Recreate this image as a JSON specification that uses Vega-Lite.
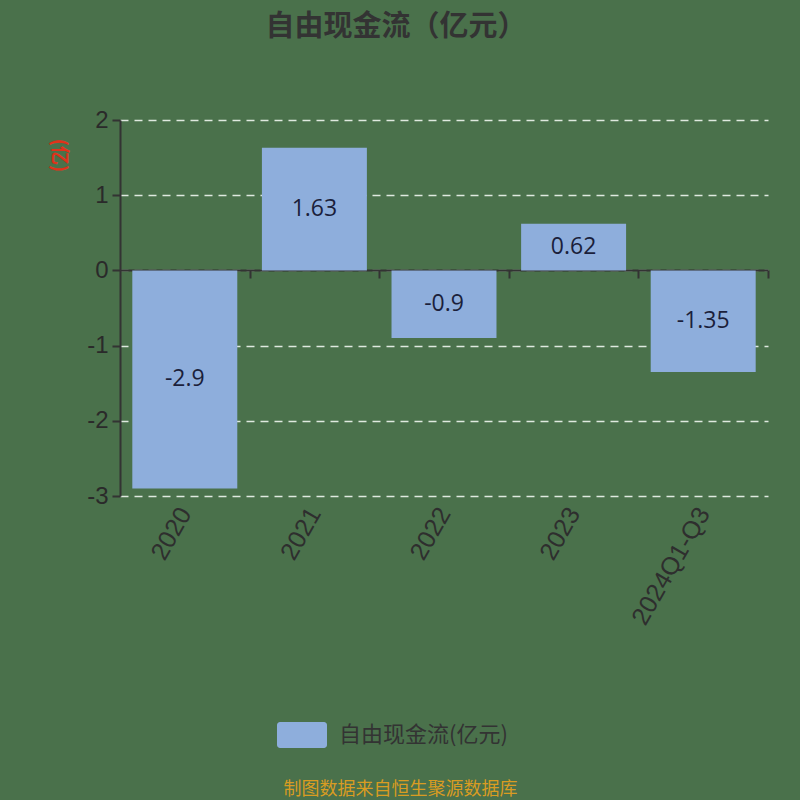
{
  "$schema": "https://vega.github.io/schema/vega-lite/v6.json",
  "autosize": "none",
  "width": 648,
  "height": 376,
  "padding": {"left": 120, "top": 120, "right": 32, "bottom": 304},
  "background": "#4a714b",
  "config": {"view": {"stroke": null}},
  "title": {
    "text": "自由现金流（亿元）",
    "font": "Noto Sans CJK SC",
    "fontSize": 29,
    "fontWeight": "bold",
    "color": "#333333",
    "anchor": "middle",
    "dx": -48,
    "offset": 66
  },
  "data": {
    "values": [
      {"period": "2020", "value": -2.9, "label": "-2.9", "series": "自由现金流(亿元)"},
      {"period": "2021", "value": 1.63, "label": "1.63", "series": "自由现金流(亿元)"},
      {"period": "2022", "value": -0.9, "label": "-0.9", "series": "自由现金流(亿元)"},
      {"period": "2023", "value": 0.62, "label": "0.62", "series": "自由现金流(亿元)"},
      {"period": "2024Q1-Q3", "value": -1.35, "label": "-1.35", "series": "自由现金流(亿元)"}
    ]
  },
  "encoding": {
    "x": {
      "field": "period",
      "type": "nominal",
      "sort": null,
      "scale": {"paddingInner": 0.19, "paddingOuter": 0.095},
      "axis": {
        "title": "制图数据来自恒生聚源数据库",
        "titleFont": "Noto Sans CJK SC",
        "titleFontSize": 18,
        "titleFontWeight": "normal",
        "titleColor": "#d99c22",
        "titleX": 280,
        "titleY": 519,
        "titleAlign": "center",
        "titleBaseline": "middle",
        "offset": -226,
        "domainColor": "#333333",
        "domainWidth": 2,
        "tickColor": "#333333",
        "tickWidth": 2,
        "tickSize": 8,
        "tickOffset": 64.8,
        "labelOffset": -64.8,
        "labelAngle": -60,
        "labelPadding": 231,
        "labelFont": "Liberation Sans",
        "labelFontSize": 25,
        "labelColor": "#2e2e2e",
        "grid": false
      }
    }
  },
  "layer": [
    {
      "mark": {"type": "bar", "color": "#8eaedc"},
      "encoding": {
        "y": {
          "field": "value",
          "type": "quantitative",
          "scale": {"domain": [-3, 2], "nice": false, "zero": false},
          "axis": {
            "values": [-3, -2, -1, 0, 1, 2],
            "labelExpr": "'' + datum.value",
            "title": "(亿)",
            "titleFont": "Noto Sans CJK SC",
            "titleFontSize": 19,
            "titleFontWeight": "bold",
            "titleColor": "#e0321a",
            "titleAngle": 90,
            "titleX": -62,
            "titleY": 35,
            "titleAlign": "center",
            "titleBaseline": "middle",
            "domainColor": "#333333",
            "domainWidth": 2,
            "tickColor": "#333333",
            "tickWidth": 2,
            "tickSize": 8,
            "labelFont": "Liberation Sans",
            "labelFontSize": 24,
            "labelColor": "#2a2a2a",
            "labelPadding": 4,
            "grid": true,
            "gridColor": "#dfe9df",
            "gridDash": [8, 6],
            "gridWidth": 1.5
          }
        },
        "fill": {
          "field": "series",
          "type": "nominal",
          "scale": {"range": ["#8eaedc"]},
          "legend": {
            "title": null,
            "orient": "none",
            "legendX": 157,
            "legendY": 590,
            "padding": 0,
            "symbolType": "M-0.88,-0.52H0.88A0.12,0.12 0 0 1 1,-0.4V0.4A0.12,0.12 0 0 1 0.88,0.52H-0.88A0.12,0.12 0 0 1 -1,0.4V-0.4A0.12,0.12 0 0 1 -0.88,-0.52Z",
            "symbolSize": 2500,
            "symbolStrokeWidth": 0,
            "symbolOpacity": 1,
            "labelFont": "Noto Sans CJK SC",
            "labelFontSize": 22,
            "labelColor": "#333333",
            "labelOffset": 12,
            "labelLimit": 400
          }
        }
      }
    },
    {
      "transform": [{"calculate": "datum.value / 2", "as": "mid"}],
      "mark": {"type": "text", "font": "Open Sans", "fontSize": 23, "color": "#1b1f3b", "baseline": "middle", "align": "center"},
      "encoding": {
        "y": {"field": "mid", "type": "quantitative"},
        "text": {"field": "label"}
      }
    }
  ]
}
